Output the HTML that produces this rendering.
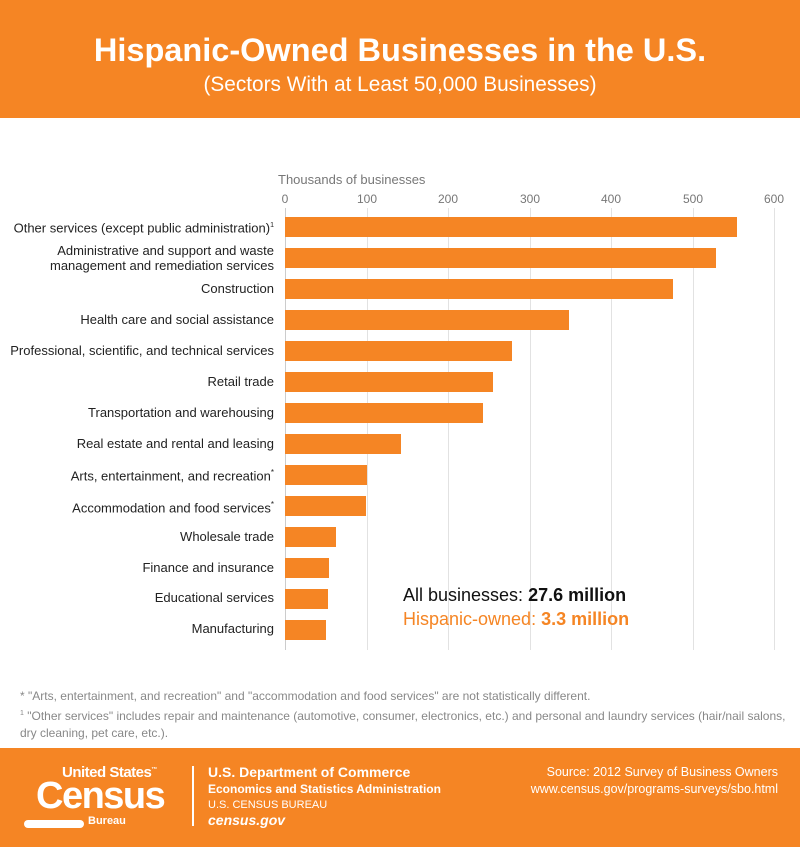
<!DOCTYPE html>
<html><head><meta charset="utf-8"><style>
body{margin:0;width:800px;height:847px;position:relative;background:#fff;font-family:"Liberation Sans",Arial,sans-serif;overflow:hidden}
.a{position:absolute}
.hdr{left:0;top:0;width:800px;height:118px;background:#f58524;color:#fff;text-align:center}
.bar{position:absolute;left:285px;height:20px;background:#f58524}
.lab{position:absolute;right:526px;font-size:13px;color:#222;text-align:right;line-height:15px;white-space:nowrap}
.tick{position:absolute;top:192px;font-size:12px;color:#777;width:40px;margin-left:-20px;text-align:center}
.grid{position:absolute;top:208px;width:1px;height:442px;background:#e2e2e2}
.ft{left:0;top:748px;width:800px;height:99px;background:#f58524;color:#fff}
</style></head><body>
<div class="a hdr">
<div style="position:absolute;top:32px;width:800px;font-size:32.5px;font-weight:bold">Hispanic-Owned Businesses in the U.S.</div>
<div style="position:absolute;top:73px;width:800px;font-size:20.8px">(Sectors With at Least 50,000 Businesses)</div>
</div>
<div class="a" style="left:278px;top:172px;font-size:13px;color:#777">Thousands of businesses</div>
<div class="tick" style="left:285px">0</div><div class="tick" style="left:367px">100</div><div class="tick" style="left:448px">200</div><div class="tick" style="left:530px">300</div><div class="tick" style="left:611px">400</div><div class="tick" style="left:693px">500</div><div class="tick" style="left:774px">600</div>
<div class="grid" style="left:285px;background:#ccc"></div><div class="grid" style="left:367px"></div><div class="grid" style="left:448px"></div><div class="grid" style="left:530px"></div><div class="grid" style="left:611px"></div><div class="grid" style="left:693px"></div><div class="grid" style="left:774px"></div>

<div class="bar" style="top:217px;width:452px"></div>
<div class="bar" style="top:248px;width:431px"></div>
<div class="bar" style="top:279px;width:388px"></div>
<div class="bar" style="top:310px;width:284px"></div>
<div class="bar" style="top:341px;width:227px"></div>
<div class="bar" style="top:372px;width:208px"></div>
<div class="bar" style="top:403px;width:198px"></div>
<div class="bar" style="top:434px;width:116px"></div>
<div class="bar" style="top:465px;width:82px"></div>
<div class="bar" style="top:496px;width:81px"></div>
<div class="bar" style="top:527px;width:51px"></div>
<div class="bar" style="top:558px;width:44px"></div>
<div class="bar" style="top:589px;width:43px"></div>
<div class="bar" style="top:620px;width:41px"></div>

<div class="lab" style="top:218px">Other services (except public administration)<sup style="font-size:7px">1</sup></div>
<div class="lab" style="top:243px">Administrative and support and waste<br>management and remediation services</div>
<div class="lab" style="top:281px">Construction</div>
<div class="lab" style="top:312px">Health care and social assistance</div>
<div class="lab" style="top:343px">Professional, scientific, and technical services</div>
<div class="lab" style="top:374px">Retail trade</div>
<div class="lab" style="top:405px">Transportation and warehousing</div>
<div class="lab" style="top:436px">Real estate and rental and leasing</div>
<div class="lab" style="top:465px">Arts, entertainment, and recreation<sup style="font-size:8px">*</sup></div>
<div class="lab" style="top:497px">Accommodation and food services<sup style="font-size:8px">*</sup></div>
<div class="lab" style="top:529px">Wholesale trade</div>
<div class="lab" style="top:560px">Finance and insurance</div>
<div class="lab" style="top:590px">Educational services</div>
<div class="lab" style="top:621px">Manufacturing</div>

<div class="a" style="left:403px;top:585px;font-size:18px;color:#111">All businesses: <b>27.6 million</b></div>
<div class="a" style="left:403px;top:609px;font-size:18px;color:#f58524">Hispanic-owned: <b>3.3 million</b></div>

<div class="a" style="left:20px;top:688px;font-size:12px;color:#888;line-height:17px;width:780px">* "Arts, entertainment, and recreation" and "accommodation and food services" are not statistically different.<br><sup style="font-size:7px">1</sup> "Other services" includes repair and maintenance (automotive, consumer, electronics, etc.) and personal and laundry services (hair/nail salons, dry cleaning, pet care, etc.).</div>

<div class="a ft">
<div style="position:absolute;left:62px;top:16px;font-size:15px;font-weight:bold;letter-spacing:-0.5px">United States<sup style="font-size:6px">™</sup></div>
<div style="position:absolute;left:36px;top:27px;font-size:38px;font-weight:bold;letter-spacing:-1.5px">Census</div>
<div style="position:absolute;left:24px;top:72px;width:60px;height:8px;background:#fff;border-radius:4px"></div>
<div style="position:absolute;left:88px;top:67px;font-size:11px;font-weight:bold">Bureau</div>
<div style="position:absolute;left:192px;top:18px;width:2px;height:60px;background:#fff"></div>
<div style="position:absolute;left:208px;top:16px;font-size:14px;font-weight:bold">U.S. Department of Commerce</div>
<div style="position:absolute;left:208px;top:34px;font-size:12px;font-weight:bold">Economics and Statistics Administration</div>
<div style="position:absolute;left:208px;top:51px;font-size:11px">U.S. CENSUS BUREAU</div>
<div style="position:absolute;left:208px;top:64px;font-size:14px;font-weight:bold;font-style:italic">census.gov</div>
<div style="position:absolute;right:22px;top:16px;font-size:12.5px;text-align:right;line-height:17px">Source: 2012 Survey of Business Owners<br>www.census.gov/programs-surveys/sbo.html</div>
</div>
</body></html>
